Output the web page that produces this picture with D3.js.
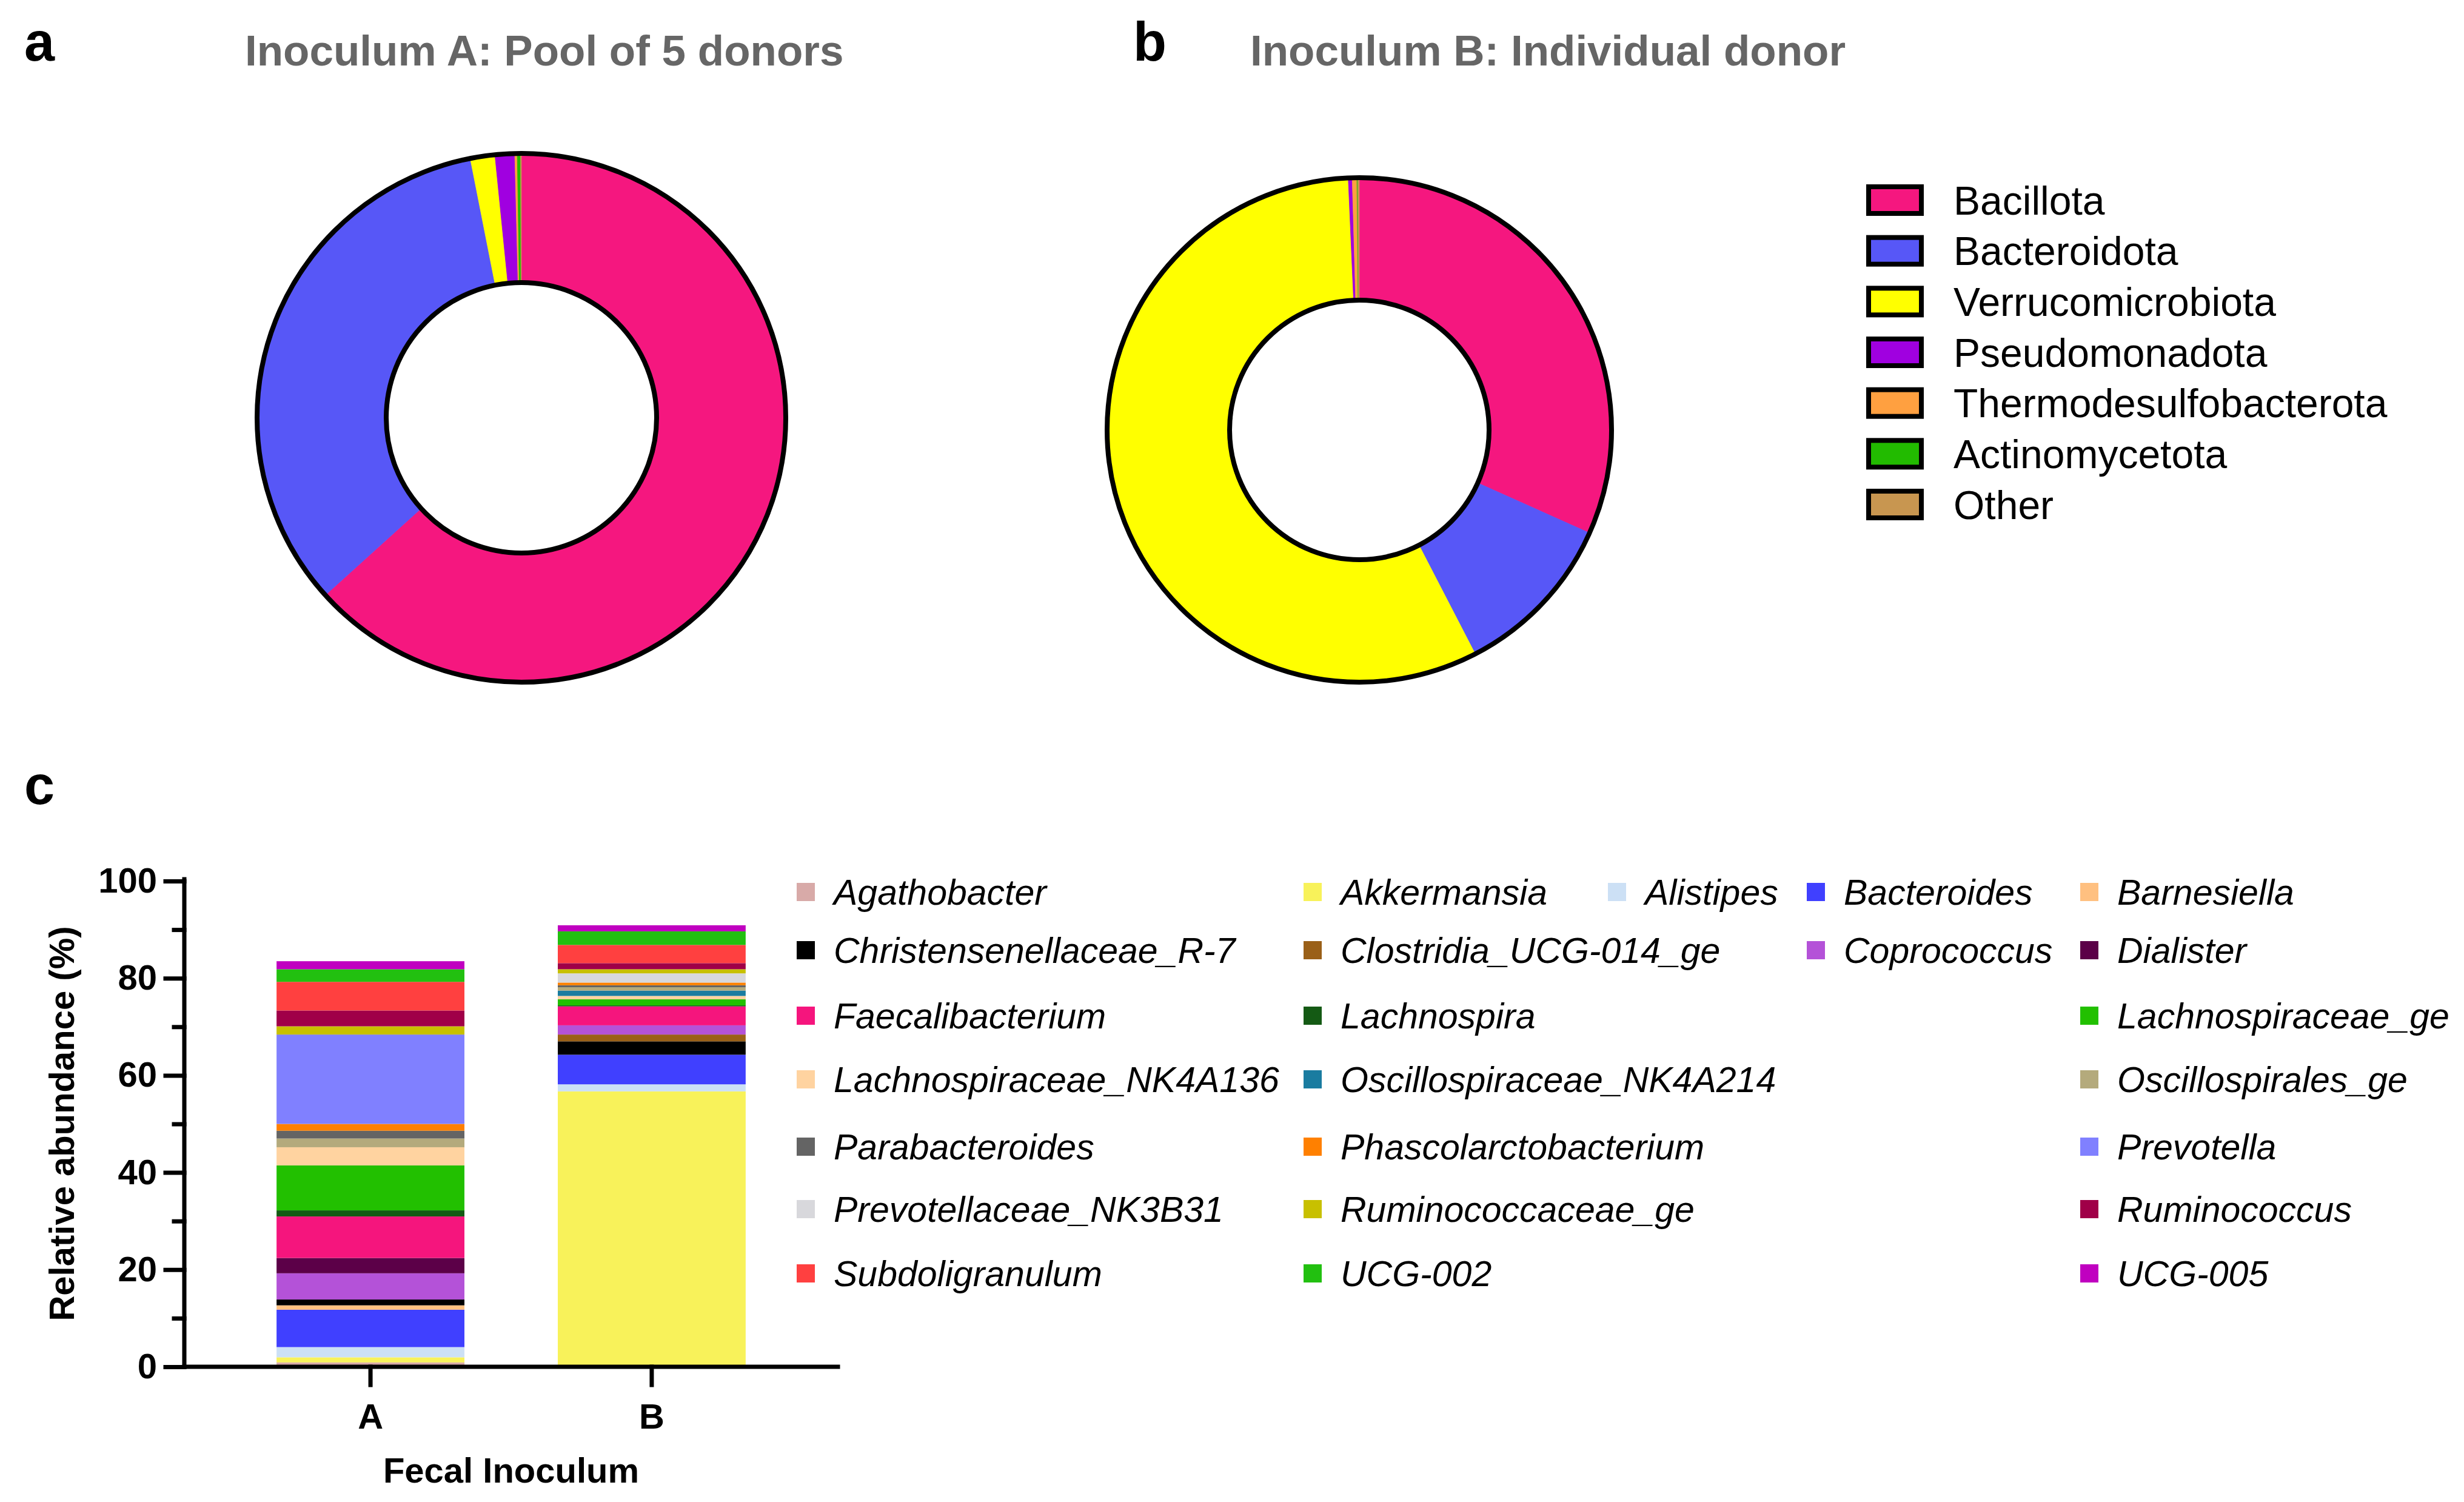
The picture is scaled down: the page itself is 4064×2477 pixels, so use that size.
<!DOCTYPE html>
<html lang="en">
<head>
  <meta charset="UTF-8">
  <title>Fecal inoculum composition</title>
  <script src="https://d3js.org/d3.v7.min.js"></script>
  <style>
    body { margin: 0; background: #fff; font-family: "Liberation Sans", Arial, Helvetica, sans-serif; }
    .panel-letter { font-size: 90px; font-weight: bold; fill: #000; }
    .donut-title { font-size: 71px; font-weight: bold; fill: #666; }
    .phylum-label { font-size: 66px; fill: #000; }
    .genus-label { font-size: 59px; font-style: italic; fill: #000; }
    .axis text { font-family: "Liberation Sans", Arial, sans-serif; font-size: 58px; font-weight: bold; fill: #000; }
    .axis-title { font-size: 58px; font-weight: bold; fill: #000; }
  </style>
</head>
<body>
  <svg width="4064" height="2477"></svg>

  <script>
    // Phylum level (panels a, b) - percent of reads
    const phyla = ["Bacillota", "Bacteroidota", "Verrucomicrobiota", "Pseudomonadota",
                   "Thermodesulfobacterota", "Actinomycetota", "Other"];
    const phylaColors = ["#f5177f", "#5757f7", "#ffff00", "#a000e0", "#ffa040", "#22bb00", "#c89650"];
    const inoculumA = [63.3, 33.6, 1.5, 1.2, 0.15, 0.2, 0.05];
    const inoculumB = [31.7, 10.7, 56.9, 0.25, 0.3, 0.05, 0.1];

    // Genus level (panel c) - relative abundance (%)
    const inocula = ["A", "B"];
    const genera = ["Agathobacter", "Akkermansia", "Alistipes", "Bacteroides", "Barnesiella",
      "Christensenellaceae_R-7", "Clostridia_UCG-014_ge", "Coprococcus", "Dialister",
      "Faecalibacterium", "Lachnospira", "Lachnospiraceae_ge", "Lachnospiraceae_NK4A136",
      "Oscillospiraceae_NK4A214", "Oscillospirales_ge", "Parabacteroides", "Phascolarctobacterium",
      "Prevotella", "Prevotellaceae_NK3B31", "Ruminococcaceae_ge", "Ruminococcus",
      "Subdoligranulum", "UCG-002", "UCG-005"];
    const generaColors = ["#d8aaa8", "#f8f25a", "#cce0f5", "#4040ff", "#ffc080",
      "#000000", "#9a6018", "#b452d8", "#5c0048",
      "#f5157d", "#145a14", "#22c000", "#ffd3a0",
      "#1a7ca0", "#b4aa7c", "#646464", "#ff8000",
      "#8080ff", "#d8d8dc", "#c8c000", "#a00048",
      "#ff4040", "#22c010", "#c000c0"];
    const abundanceA = [0.9, 1.05, 2.1, 7.7, 0.9, 1.2, 0, 5.4, 3.15, 8.55, 1.25, 9.25, 3.75,
                        0, 1.8, 1.6, 1.4, 18.4, 0, 1.7, 3.25, 5.9, 2.6, 1.65];
    const abundanceB = [0, 56.7, 1.45, 6.1, 0, 2.75, 1.4, 1.9, 0, 3.9, 0.2, 1.25, 0.7,
                        1.1, 0.7, 0.4, 0.55, 0, 1.9, 0.85, 1.25, 3.75, 2.8, 1.25];
    const yMajor = [0, 20, 40, 60, 80, 100];
    const yMinor = [10, 30, 50, 70, 90];

    // legend column of each genus (GraphPad style wrapped legend)
    const legendCol = [0, 1, 2, 3, 4, 0, 1, 3, 4, 0, 1, 4, 0, 1, 4, 0, 1, 4, 0, 1, 4, 0, 1, 4];

    const svg = d3.select("svg");

    // ---------- panel letters and titles ----------
    svg.append("text").attr("class", "panel-letter").attr("x", 40).attr("y", 100).text("a");
    svg.append("text").attr("class", "panel-letter").attr("x", 1869).attr("y", 100).text("b");
    svg.append("text").attr("class", "panel-letter").attr("x", 40).attr("y", 1326).text("c");

    svg.append("text").attr("class", "donut-title").attr("x", 404).attr("y", 108)
      .text("Inoculum A: Pool of 5 donors");
    svg.append("text").attr("class", "donut-title").attr("x", 2062).attr("y", 108)
      .text("Inoculum B: Individual donor");

    // ---------- donuts ----------
    const pie = d3.pie().sort(null).value(d => d);

    function donut(values, cx, cy, rOuter, rInner) {
      const g = svg.append("g").attr("transform", `translate(${cx},${cy})`);
      const arc = d3.arc().innerRadius(rInner).outerRadius(rOuter);
      g.selectAll("path")
        .data(pie(values))
        .enter()
        .append("path")
        .attr("d", arc)
        .attr("fill", (d, i) => phylaColors[i])
        .attr("stroke", (d, i) => phylaColors[i])
        .attr("stroke-width", 0.8);
      [rOuter, rInner].forEach(r => {
        g.append("circle")
          .attr("r", r)
          .attr("fill", "none")
          .attr("stroke", "#000")
          .attr("stroke-width", 8);
      });
    }

    donut(inoculumA, 860, 689, 436, 223);
    donut(inoculumB, 2242, 709, 416, 214);

    // phylum legend
    const phylumLegend = svg.append("g");
    const phylumRow = d3.scalePoint().domain(phyla).range([330, 832]);
    phyla.forEach((p, i) => {
      const y = phylumRow(p);
      phylumLegend.append("rect")
        .attr("x", 3082).attr("y", y - 22)
        .attr("width", 87).attr("height", 44)
        .attr("fill", phylaColors[i])
        .attr("stroke", "#000").attr("stroke-width", 8);
      phylumLegend.append("text")
        .attr("class", "phylum-label")
        .attr("x", 3222).attr("y", y)
        .attr("dy", "0.36em")
        .text(p);
    });

    // ---------- stacked bars (panel c) ----------
    const tableData = inocula.map((name, j) => {
      const row = { inoculum: name };
      genera.forEach((g, i) => { row[g] = (j === 0 ? abundanceA : abundanceB)[i]; });
      return row;
    });

    const x = d3.scaleBand()
      .domain(inocula)
      .range([304, 1382])
      .paddingInner(0.332)
      .paddingOuter(0.328);

    const y = d3.scaleLinear()
      .domain([0, 100])
      .range([2254, 1453]);

    const color = d3.scaleOrdinal().domain(genera).range(generaColors);

    const series = d3.stack().keys(genera)(tableData);

    const bars = svg.append("g");
    bars.selectAll("g")
      .data(series)
      .enter()
      .append("g")
      .attr("fill", d => color(d.key))
      .selectAll("rect")
      .data(d => d)
      .enter()
      .append("rect")
      .attr("x", d => x(d.data.inoculum))
      .attr("width", x.bandwidth())
      .attr("y", d => y(d[1]))
      .attr("height", d => Math.max(0, y(d[0]) - y(d[1])));

    // Axes
    const yAxis = svg.append("g")
      .attr("class", "axis")
      .attr("transform", "translate(304,0)")
      .call(d3.axisLeft(y).tickValues(yMajor).tickSize(31).tickSizeOuter(0).tickPadding(14));

    svg.append("g")
      .attr("class", "axis")
      .attr("transform", "translate(304,0)")
      .call(d3.axisLeft(y).tickValues(yMinor).tickSize(17).tickSizeOuter(0).tickFormat(""))
      .call(g => g.select(".domain").remove());

    const xAxis = svg.append("g")
      .attr("class", "axis")
      .attr("transform", "translate(0,2254)")
      .call(d3.axisBottom(x).tickSize(30).tickSizeOuter(0).tickPadding(31));

    svg.selectAll(".axis path, .axis line")
      .attr("stroke", "#000")
      .attr("stroke-width", 7)
      .attr("stroke-linecap", "square");

    // extend the domains so the corner is closed
    yAxis.select(".domain").attr("d", `M0,${y(100) - 3}V${y(0)}`);
    xAxis.select(".domain").attr("d", `M304,0H1382`);

    // Labels
    svg.append("text")
      .attr("class", "axis-title")
      .attr("x", 843)
      .attr("y", 2445)
      .attr("text-anchor", "middle")
      .text("Fecal Inoculum");

    svg.append("text")
      .attr("class", "axis-title")
      .attr("transform", "rotate(-90)")
      .attr("x", -1853)
      .attr("y", 122)
      .attr("text-anchor", "middle")
      .text("Relative abundance (%)");

    // genus legend
    const colSwatchX = [1314, 2150, 2652, 2980, 3431];
    const rowY = [1471, 1567, 1675, 1780, 1891, 1994, 2100];
    const genusLegend = svg.append("g");
    let row = 0;
    genera.forEach((g, i) => {
      if (i > 0 && legendCol[i] <= legendCol[i - 1]) row++;
      const sx = colSwatchX[legendCol[i]];
      const sy = rowY[row];
      genusLegend.append("rect")
        .attr("x", sx).attr("y", sy - 15)
        .attr("width", 30).attr("height", 30)
        .attr("fill", color(g));
      genusLegend.append("text")
        .attr("class", "genus-label")
        .attr("x", sx + 61).attr("y", sy)
        .attr("dy", "0.36em")
        .text(g);
    });
  </script>
</body>
</html>
